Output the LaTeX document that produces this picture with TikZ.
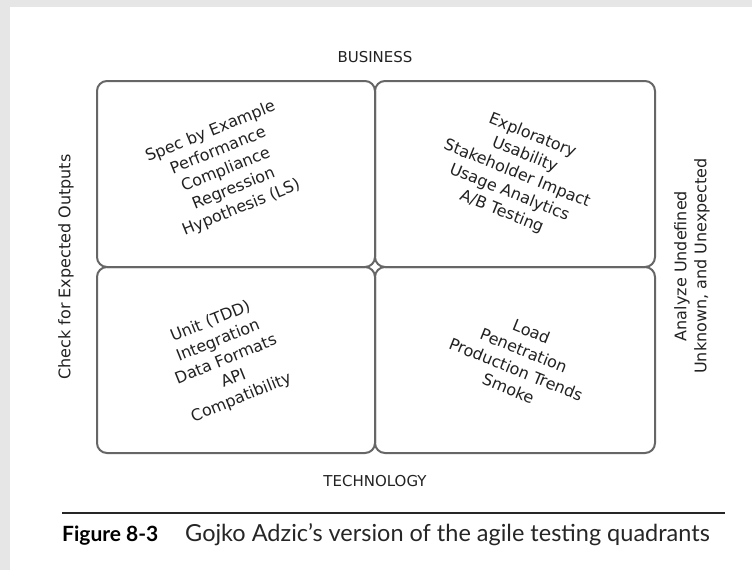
\documentclass[tikz,border=0pt]{standalone}
\usepackage{fontspec}
\setmainfont{DejaVu Sans}
\newfontfamily\capfont{Lato}
\definecolor{bggray}{HTML}{E6E6E6}
\definecolor{boxgray}{HTML}{666666}
\definecolor{ink}{HTML}{222222}
\tikzset{
  quad/.style={draw=boxgray, line width=2pt, rounded corners=10pt},
  qtext/.style={align=center, text=ink, font=\fontsize{16}{20.5}\selectfont, inner sep=0pt},
  axis/.style={text=ink, font=\fontsize{15}{20}\selectfont, inner sep=0pt},
  saxis/.style={text=ink, font=\fontsize{16}{20}\selectfont, inner sep=0pt},
}
\begin{document}
\begin{tikzpicture}[x=1pt, y=-1pt]
  \fill[bggray] (0,0) rectangle (752,570);
  \fill[white] (10,7) rectangle (752,570);
  \useasboundingbox (0,0) rectangle (752,570);

  % quadrants
  \draw[quad] (97,81) rectangle (375,267);
  \draw[quad] (375,81) rectangle (655,267);
  \draw[quad] (97,267) rectangle (375,453);
  \draw[quad] (375,267) rectangle (655,453);
  \coordinate (q1) at (226,170);
  \coordinate (q2) at (517,174);
  \coordinate (q3) at (226,360);
  \coordinate (q4) at (520,360);

  \node[qtext, rotate=22] (t1) at (q1) {Spec by Example\\Performance\\Compliance\\Regression\\Hypothesis (LS)};
  \node[qtext, rotate=-22] (t2) at (q2) {Exploratory\\Usability\\Stakeholder Impact\\Usage Analytics\\A/B Testing};
  \node[qtext, rotate=22] (t3) at (q3) {Unit (TDD)\\Integration\\Data Formats\\API\\Compatibility};
  \node[qtext, rotate=-22] (t4) at (q4) {Load\\Penetration\\Production Trends\\Smoke};

  % axis labels
  \node[axis] (biz) at (375,57) {BUSINESS};
  \node[axis] (tech) at (375,481) {TECHNOLOGY};
  \node[saxis, rotate=90] (left) at (66,267) {Check for Expected Outputs};
  \node[saxis, rotate=90, align=center] (right) at (692,266) {Analyze Undefined\\Unknown, and Unexpected};

  % caption
  \draw[line width=1.5pt, black!85] (62,513) -- (725,513);
  \node[anchor=base west, inner sep=0pt, font=\capfont\fontsize{21}{24}\selectfont] (fig) at (62,541) {\textbf{Figure 8-3}};
  \node[anchor=base west, inner sep=0pt, text=black!85, font=\capfont\fontsize{23.5}{26}\selectfont] (cap) at (185,541) {Gojko Adzic’s version of the agile testing quadrants};
\end{tikzpicture}
\end{document}
